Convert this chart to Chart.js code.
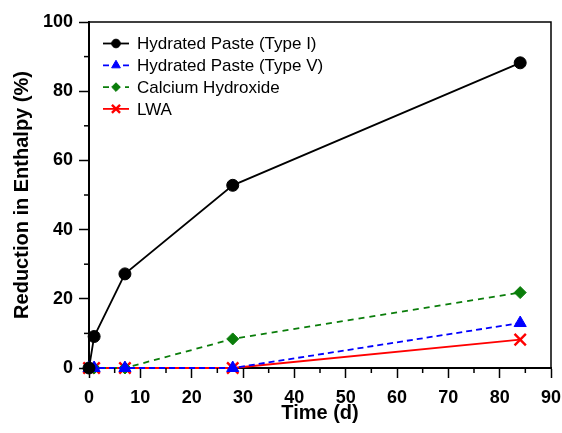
<!DOCTYPE html>
<html>
<head>
<meta charset="utf-8">
<script src="https://cdn.jsdelivr.net/npm/chart.js@4.4.1/dist/chart.umd.min.js"></script>
<style>
  html, body { margin: 0; padding: 0; background: #fff; }
  #wrap { width: 562px; height: 433px; }
</style>
</head>
<body>
<div id="wrap"><canvas id="myChart" width="562" height="433"></canvas></div>
<script>
// data
const days = [0, 1, 7, 28, 84];
const typeI = [0, 9.1, 27.2, 52.8, 88.2];
const typeV = [0, 0, 0, 0, 13.0];
const calciumHydroxide = [0, 0, 0, 8.4, 21.8];
const lwa = [0, 0, 0, 0, 8.2];
const seriesNames = ['Hydrated Paste (Type I)', 'Hydrated Paste (Type V)', 'Calcium Hydroxide', 'LWA'];

const FONT = 'Arial, "Liberation Sans", sans-serif';

const toPoints = (vals) => vals.map((v, i) => ({ x: days[i], y: v }));

function series(label, vals, color, style, radius, dash) {
  return {
    label,
    data: toPoints(vals),
    borderColor: color,
    backgroundColor: color,
    borderWidth: 1.8,
    borderDash: dash,
    pointStyle: style,
    pointRadius: radius,
    pointHoverRadius: radius,
    pointBorderWidth: style === 'crossRot' ? 2.4 : 1,
    pointBorderColor: color,
    pointBackgroundColor: color,
    tension: 0,
    clip: false
  };
}

// minor ticks + box frame
const frame = {
  id: 'frame',
  afterDraw(chart) {
    const { ctx, chartArea: a, scales } = chart;
    ctx.save();
    ctx.strokeStyle = '#000';
    ctx.lineWidth = 1.5;
    ctx.beginPath();
    ctx.moveTo(a.left, a.top);
    ctx.lineTo(a.right, a.top);
    ctx.lineTo(a.right, a.bottom);
    ctx.stroke();
    for (let v = 5; v < 90; v += 10) {
      const px = scales.x.getPixelForValue(v);
      ctx.beginPath();
      ctx.moveTo(px, a.bottom);
      ctx.lineTo(px, a.bottom + 5);
      ctx.stroke();
    }
    for (let v = 10; v < 100; v += 20) {
      const py = scales.y.getPixelForValue(v);
      ctx.beginPath();
      ctx.moveTo(a.left, py);
      ctx.lineTo(a.left - 5, py);
      ctx.stroke();
    }
    ctx.restore();
  }
};

// legend drawn with the line sample and marker
const lineLegend = {
  id: 'lineLegend',
  afterDraw(chart) {
    const { ctx } = chart;
    const x0 = 103, x1 = 129, tx = 137, y0 = 43.5, step = 21.8;
    ctx.save();
    chart.data.datasets.forEach((ds, i) => {
      const y = y0 + i * step;
      ctx.strokeStyle = ds.borderColor;
      ctx.lineWidth = ds.borderWidth;
      ctx.setLineDash(ds.borderDash || []);
      ctx.beginPath();
      ctx.moveTo(x0, y);
      ctx.lineTo(x1, y);
      ctx.stroke();
      ctx.setLineDash([]);
      ctx.fillStyle = ds.backgroundColor;
      ctx.lineWidth = ds.pointBorderWidth;
      Chart.helpers.drawPoint(ctx, {
        pointStyle: ds.pointStyle,
        radius: ds.pointRadius * 0.72,
        rotation: 0,
        borderWidth: ds.pointBorderWidth
      }, (x0 + x1) / 2, y);
      ctx.fillStyle = '#000';
      ctx.font = '17px ' + FONT;
      ctx.textBaseline = 'middle';
      ctx.textAlign = 'left';
      ctx.fillText(ds.label, tx, y + 1);
    });
    ctx.restore();
  }
};

const config = {
  type: 'line',
  data: {
    datasets: [
      series(seriesNames[0], typeI, '#000000', 'circle', 6, []),
      series(seriesNames[1], typeV, '#0000ff', 'triangle', 7, [6, 4]),
      series(seriesNames[2], calciumHydroxide, '#0a7d0a', 'rectRot', 6, [6, 5]),
      series(seriesNames[3], lwa, '#ff0000', 'crossRot', 8, [])
    ]
  },
  options: {
    responsive: false,
    animation: false,
    devicePixelRatio: 1,
    layout: { padding: { left: 0, top: 22, right: 11, bottom: 0 } },
    scales: {
      x: {
        type: 'linear',
        min: 0,
        max: 90,
        afterFit: (s) => { s.height = 65; s.paddingLeft = 0; s.paddingRight = 0; },
        ticks: {
          stepSize: 10,
          color: '#000',
          padding: 9,
          maxRotation: 0,
          font: { family: FONT, size: 18, weight: 'bold' }
        },
        grid: { drawOnChartArea: false, drawTicks: true, tickLength: 10, tickColor: '#000', tickWidth: 1.5 },
        border: { display: true, color: '#000', width: 2 },
        title: {
          display: true,
          text: 'Time (d)',
          color: '#000',
          padding: { top: 0, bottom: 8 },
          font: { family: FONT, size: 20, weight: 'bold' }
        }
      },
      y: {
        min: 0,
        max: 100,
        afterFit: (s) => { s.width = 89; s.paddingTop = 0; s.paddingBottom = 0; },
        ticks: {
          stepSize: 20,
          color: '#000',
          padding: 6,
          font: { family: FONT, size: 18, weight: 'bold' }
        },
        grid: { drawOnChartArea: false, drawTicks: true, tickLength: 10, tickColor: '#000', tickWidth: 1.5 },
        border: { display: true, color: '#000', width: 2 },
        title: {
          display: true,
          text: 'Reduction in Enthalpy (%)',
          color: '#000',
          padding: { top: 10, bottom: 0 },
          font: { family: FONT, size: 20, weight: 'bold' }
        }
      }
    },
    plugins: {
      legend: { display: false },
      tooltip: { enabled: false }
    }
  },
  plugins: [frame, lineLegend]
};

const myChart = new Chart(document.getElementById('myChart'), config);
</script>
</body>
</html>
